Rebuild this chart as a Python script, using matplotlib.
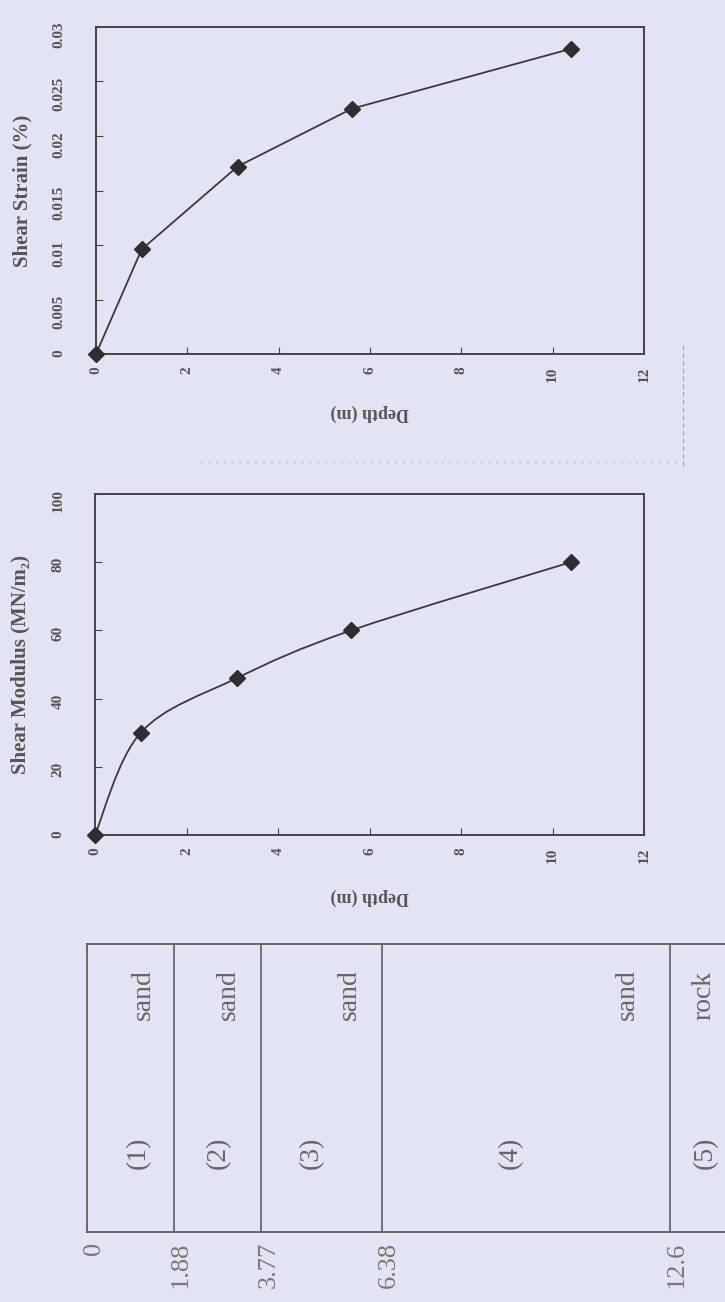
import matplotlib
matplotlib.use("Agg")
import matplotlib.pyplot as plt
from matplotlib.path import Path
from matplotlib.patches import PathPatch
from matplotlib.lines import Line2D

# values
depth = [0.0, 1.0, 3.1, 5.6, 10.4]
shear_strain = [0.0, 0.0096, 0.0172, 0.0225, 0.0280]
shear_modulus = [0.0, 30.0, 46.0, 60.0, 80.0]

depth_ticks = [0, 2, 4, 6, 8, 10, 12]
strain_ticks = [0, 0.005, 0.01, 0.015, 0.02, 0.025, 0.03]
strain_ticklabels = ["0", "0.005", "0.01", "0.015", "0.02", "0.025", "0.03"]
modulus_ticks = [0, 20, 40, 60, 80, 100]

layer_bounds = [0, 1.88, 3.77, 6.38, 12.6]
bound_labels = ["0", "1.88", "3.77", "6.38", "12.6"]
layer_ids = ["(1)", "(2)", "(3)", "(4)", "(5)"]
layer_soil = ["sand", "sand", "sand", "sand", "rock"]

SERIF = ["Liberation Serif", "DejaVu Serif"]
BG = "#e2e4f3"
INK = "#444444"
TXT = "#555555"
plt.rcParams["font.family"] = SERIF

W, H = 725, 1302
fig = plt.figure(figsize=(W / 100, H / 100), dpi=100, facecolor=BG)


def rect(x0, y0, x1, y1):
    return [x0 / W, 1 - y1 / H, (x1 - x0) / W, (y1 - y0) / H]


def style_plot(ax, yticks, yticklabels, ylim, ylabel):
    ax.set_facecolor(BG)
    ax.set_xlim(0, 12)
    ax.set_ylim(*ylim)
    ax.set_xticks(depth_ticks)
    ax.set_xticklabels([str(t) for t in depth_ticks])
    ax.set_yticks(yticks)
    ax.set_yticklabels(yticklabels)
    for s in ax.spines.values():
        s.set_color(INK)
        s.set_linewidth(1.4)
    ax.tick_params(direction="in", length=5, color=INK, labelcolor=TXT,
                   labelsize=11)
    ax.tick_params(axis="x", labelrotation=90, pad=9)
    ax.tick_params(axis="y", labelrotation=90, pad=22)
    for lab in ax.get_xticklabels() + ax.get_yticklabels():
        lab.set_fontweight("bold")
    ax.text(-0.135, 0.5, ylabel, transform=ax.transAxes, rotation=90,
            ha="center", va="center", fontsize=15, fontweight="bold",
            color=TXT)
    ax.text(0.5, -0.18, "Depth (m)", transform=ax.transAxes, rotation=180,
            ha="center", va="center", fontsize=13, fontweight="bold",
            color=TXT)


# shear strain vs depth
ax1 = fig.add_axes(rect(96, 27, 644, 354))
style_plot(ax1, strain_ticks, strain_ticklabels, (0, 0.03), "Shear Strain (%)")
ax1.plot(depth, shear_strain, color="#3a3a3a", lw=1.3, marker="D", ms=8,
         mfc="#2e2e2e", mec="#2e2e2e", clip_on=False, zorder=3)

# shear modulus vs depth, smoothed line like the spreadsheet original
ax2 = fig.add_axes(rect(95, 494, 644, 835))
style_plot(ax2, modulus_ticks, [str(t) for t in modulus_ticks], (0, 100),
           "Shear Modulus (MN/m\u2082)")
pts = list(zip(depth, shear_modulus))
verts = [pts[0]]
codes = [Path.MOVETO]
for i in range(len(pts) - 1):
    p0 = pts[max(i - 1, 0)]
    p1 = pts[i]
    p2 = pts[i + 1]
    p3 = pts[min(i + 2, len(pts) - 1)]
    c1 = (p1[0] + (p2[0] - p0[0]) / 6, p1[1] + (p2[1] - p0[1]) / 6)
    c2 = (p2[0] - (p3[0] - p1[0]) / 6, p2[1] - (p3[1] - p1[1]) / 6)
    verts += [c1, c2, p2]
    codes += [Path.CURVE4] * 3
ax2.add_patch(PathPatch(Path(verts, codes), fill=False, ec="#3a3a3a", lw=1.3,
                        zorder=2))
ax2.plot(depth, shear_modulus, ls="none", marker="D", ms=8, mfc="#2e2e2e",
         mec="#2e2e2e", clip_on=False, zorder=3)

# soil profile column
ax3 = fig.add_axes(rect(87, 944, 725, 1232))
ax3.set_facecolor(BG)
ax3.set_xlim(0, 638 / 46.27)
ax3.set_ylim(0, 1)
ax3.set_xticks([])
ax3.set_yticks([])
ax3.spines["right"].set_visible(False)
for k in ["left", "top", "bottom"]:
    ax3.spines[k].set_color("#555555")
    ax3.spines[k].set_linewidth(1.2)
for b in layer_bounds[1:]:
    ax3.axvline(b, color="#555555", lw=1.1)

id_x = [1.12, 2.83, 4.84, 9.16, 13.36]
soil_x = [1.22, 3.05, 5.68, 11.67, 13.33]
for lid, soil, xi, xs in zip(layer_ids, layer_soil, id_x, soil_x):
    ax3.text(xi, 0.274, lid, rotation=90, ha="center", va="center",
             fontsize=20, color="#666666")
    ax3.text(xs, 0.823, soil, rotation=90, ha="center", va="center",
             fontsize=20, color="#666666")
for b, lab in zip(layer_bounds, bound_labels):
    ax3.text(b + 0.15, -0.035, lab, rotation=90, ha="center", va="top",
             fontsize=19, color="#777777", clip_on=False)

# faint dashed marks from the scanned page
fig.add_artist(Line2D([683 / W, 683 / W], [1 - 345 / H, 1 - 470 / H],
                      color="#888888", lw=0.8, ls=(0, (4, 3)), alpha=0.7))
fig.add_artist(Line2D([200 / W, 683 / W], [1 - 462 / H, 1 - 462 / H],
                      color="#999999", lw=0.8, ls=(0, (2, 5)), alpha=0.6))

fig.savefig("out.png", dpi=100, facecolor=BG)
